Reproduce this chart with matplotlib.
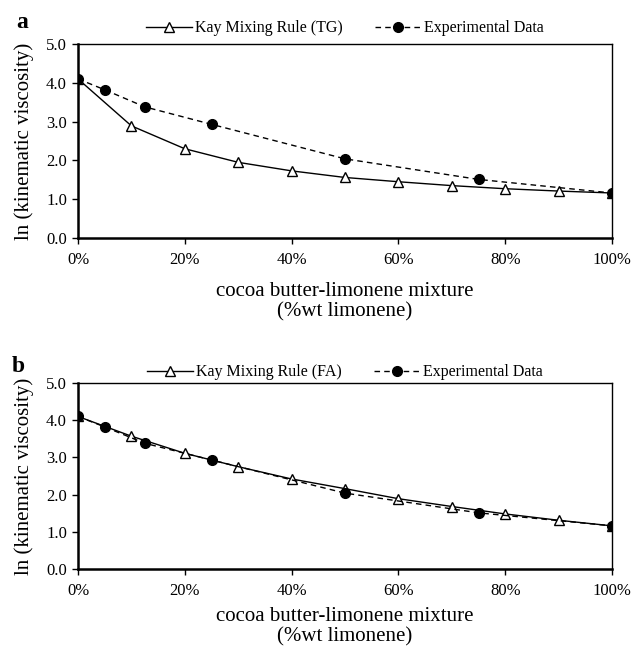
import matplotlib.pyplot as plt
from matplotlib.ticker import FuncFormatter

plt.rcParams['font.family'] = ['Liberation Serif', 'DejaVu Serif']

# ==================================
# DATA
# ==================================
kay_x = [0, 10, 20, 30, 40, 50, 60, 70, 80, 90, 100]
kay_tg = [4.10, 2.89, 2.30, 1.95, 1.73, 1.56, 1.45, 1.35, 1.27, 1.21, 1.16]
kay_fa = [4.10, 3.57, 3.11, 2.75, 2.42, 2.16, 1.89, 1.68, 1.48, 1.31, 1.16]

exp_x = [0, 5, 12.5, 25, 50, 75, 100]
exp_y = [4.10, 3.82, 3.38, 2.93, 2.04, 1.51, 1.16]

panels = [("a", kay_tg, "Kay Mixing Rule (TG)"),
          ("b", kay_fa, "Kay Mixing Rule (FA)")]

# ==================================
# FIGURE
# ==================================
fig = plt.figure(figsize=(6.38, 6.47), dpi=100)

# axes rectangles in figure fractions (left, bottom, width, height)
W, H = 638, 647
rects = [(78 / W, 1 - 238 / H, 534 / W, 194 / H),
         (78 / W, 1 - 569 / H, 534 / W, 186 / H)]
xlabel_pad = [10, 6]
legend_y = [1.006, 0.98]
tag_pos = [(16 / W, 1 - 28 / H), (12 / W, 1 - 372 / H)]

for (tag, kay, kay_label), rect, pad, ly, tp in zip(panels, rects, xlabel_pad,
                                                    legend_y, tag_pos):
    ax = fig.add_axes(rect)

    ax.plot(kay_x, kay, color="black", lw=1.0, marker="^", ms=6.5,
            mfc="white", mec="black", mew=1.0, label=kay_label, zorder=3)
    ax.plot(exp_x, exp_y, color="black", lw=1.0, ls=(0, (4, 3)), marker="o",
            ms=7, mfc="black", mec="black", label="Experimental Data", zorder=4)

    ax.set_xlim(0, 100)
    ax.set_ylim(0, 5)
    ax.set_xticks([0, 20, 40, 60, 80, 100])
    ax.set_yticks([0, 1, 2, 3, 4, 5])
    ax.xaxis.set_major_formatter(FuncFormatter(lambda v, p: f"{v:.0f}%"))
    ax.yaxis.set_major_formatter(FuncFormatter(lambda v, p: f"{v:.1f}"))
    ax.tick_params(direction="out", length=4, width=1, labelsize=12,
                   colors="black", pad=4)
    ax.tick_params(axis="x", pad=6)

    for s in ["left", "bottom"]:
        ax.spines[s].set_linewidth(1.8)
    for s in ["top", "right"]:
        ax.spines[s].set_linewidth(1.0)

    ax.set_xlabel("cocoa butter-limonene mixture\n(%wt limonene)",
                  fontsize=15, labelpad=pad, linespacing=1.1)
    ax.set_ylabel("ln (kinematic viscosity)", fontsize=15, labelpad=9)

    ax.legend(loc="lower center", bbox_to_anchor=(0.5, ly), ncol=2,
              frameon=False, fontsize=11.5, handlelength=2.9,
              columnspacing=2.0, handletextpad=0.2, borderaxespad=0)

    fig.text(tp[0], tp[1], tag, fontsize=17, fontweight="bold",
             va="baseline", ha="left")

fig.savefig("out.png", dpi=100)
